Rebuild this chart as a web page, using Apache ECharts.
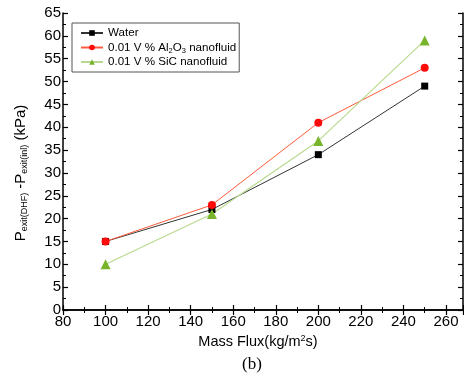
<!DOCTYPE html>
<html><head><meta charset="utf-8">
<script src="https://cdn.jsdelivr.net/npm/echarts@6/dist/echarts.min.js"></script>
<style>html,body{margin:0;padding:0;background:#fff}#c{width:464px;height:375px}</style>
</head><body><div id="c"></div>
<script>
var massFlux = [100, 150, 200, 250];
var water = [15, 22, 34, 49];
var al2o3 = [15, 23, 41, 53];
var sic = [10, 21, 37, 59];
var seriesNames = ['Water', '0.01 V % Al2O3 nanofluid', '0.01 V % SiC nanofluid'];

function pairs(ys){ return massFlux.map(function(x,i){ return [x, ys[i]]; }); }

var font = 'Liberation Sans, Arial, sans-serif';
var chart = echarts.init(document.getElementById('c'), null, {renderer:'canvas'});

var axisCommon = {
  axisLine:{show:true, lineStyle:{color:'#000', width:1.5}},
  axisTick:{show:true, inside:true, length:5, lineStyle:{color:'#000', width:1.2}},
  minorTick:{show:true, splitNumber:2, length:3, lineStyle:{color:'#000', width:1}},
  splitLine:{show:false}
};

chart.setOption({
  animation:false,
  grid:{left:63, right:1, top:13, bottom:65, containLabel:false},
  xAxis:[
    Object.assign({type:'value', min:80, max:268, interval:20, position:'bottom',
      axisLabel:{color:'#000', fontSize:15, fontFamily:font, margin:4, showMaxLabel:false}}, axisCommon),
    Object.assign({type:'value', min:80, max:268, interval:20, position:'top',
      axisLabel:{show:false}}, axisCommon)
  ],
  yAxis:[
    Object.assign({type:'value', min:0, max:65, interval:5, position:'left',
      axisLabel:{color:'#000', fontSize:15, fontFamily:font, margin:2}}, axisCommon),
    Object.assign({type:'value', min:0, max:65, interval:5, position:'right',
      axisLabel:{show:false}}, axisCommon)
  ],
  legend:{
    orient:'vertical', left:72, top:23,
    padding:[3,3,3,8], itemGap:0.5,
    itemWidth:22, itemHeight:7,
    borderColor:'#555', borderWidth:1,
    data:seriesNames,
    formatter:function(n){
      if(n.indexOf('Al2O3')>=0) return '0.01 V % Al{sub|2}O{sub|3} nanofluid';
      return n;
    },
    textStyle:{color:'#000', fontSize:11.6, fontFamily:font, lineHeight:14,
      rich:{sub:{fontSize:7.5, fontFamily:font, verticalAlign:'bottom', lineHeight:14, padding:[5,0,0,0]}}}
  },
  graphic:[
    {type:'text', x:258, y:342, style:{text:'Mass Flux(kg/m{sup|2}s)', fontSize:14.5, fontFamily:font, fill:'#000', align:'center', verticalAlign:'middle',
      rich:{sup:{fontSize:9, fontFamily:font, padding:[0,0,6,0]}}}},
    {type:'text', x:252, y:365, style:{text:'(b)', fontSize:17, fontFamily:'Liberation Serif, Times New Roman, serif', fill:'#000', align:'center', verticalAlign:'middle'}},
    {type:'text', x:21, y:173, rotation:Math.PI/2,
      style:{text:'P{sub|exit(DHF)} -P{sub|exit(inl)} (kPa)', fontSize:15, fontFamily:font, fill:'#000', align:'center', verticalAlign:'middle',
        rich:{sub:{fontSize:9, fontFamily:font, padding:[7,0,0,0]}}}}
  ],
  series:[
    {name:seriesNames[0], type:'line', data:pairs(water), symbol:'rect', symbolSize:7,
      lineStyle:{color:'#333', width:1}, itemStyle:{color:'#000'}},
    {name:seriesNames[1], type:'line', data:pairs(al2o3), symbol:'circle', symbolSize:8,
      lineStyle:{color:'#ff5a3a', width:1}, itemStyle:{color:'#ff0a0a'}},
    {name:seriesNames[2], type:'line', data:pairs(sic), symbol:'triangle', symbolSize:10,
      lineStyle:{color:'#b9da8e', width:1.2}, itemStyle:{color:'#78b52a'}}
  ]
});
</script></body></html>
